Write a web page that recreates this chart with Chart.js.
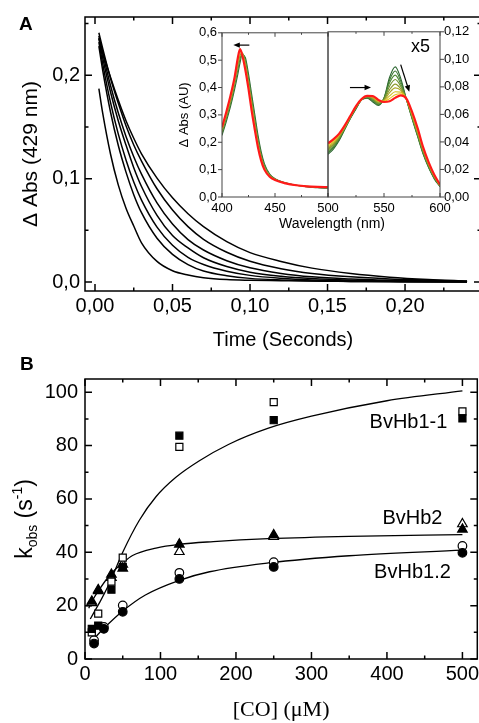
<!DOCTYPE html>
<html>
<head>
<meta charset="utf-8">
<script src="https://cdn.jsdelivr.net/npm/chart.js@4.4.0/dist/chart.umd.min.js"></script>
<style>
  html, body { margin: 0; padding: 0; width: 479px; height: 723px; overflow: hidden; background: #fff; }
  canvas { position: absolute; }
  .lbl { position: absolute; font-family: 'Liberation Sans', Arial, sans-serif; line-height: 1; color: #000; white-space: nowrap; }
</style>
</head>
<body>
<canvas id="decay" width="484" height="360" style="left:0;top:0"></canvas>
<canvas id="soret" width="180" height="215" style="left:170px;top:20px"></canvas>
<canvas id="qband" width="158" height="215" style="left:326px;top:20px"></canvas>
<canvas id="kobs" width="484" height="363" style="left:0;top:360px"></canvas>
<div class="lbl" style="left:19px;top:14px;font-size:19px;font-weight:bold">A</div>
<div class="lbl" style="left:20px;top:354px;font-size:19px;font-weight:bold">B</div>
<div class="lbl" style="left:411px;top:37px;font-size:18px">x5</div>
<div class="lbl" style="left:232px;top:216px;width:200px;text-align:center;font-size:14px">Wavelength (nm)</div>
<script>
  "use strict";

  // ---- panel A: absorbance decays at 429 nm ----
  const decayTime = [0.0025, 0.005, 0.01, 0.015, 0.02, 0.025, 0.03, 0.04, 0.05, 0.06, 0.07, 0.085, 0.1, 0.12, 0.14, 0.165, 0.19, 0.215, 0.24];
  const decay1 = [0.236, 0.222, 0.198, 0.176, 0.156, 0.139, 0.124, 0.1005, 0.0815, 0.0661, 0.0536, 0.0391, 0.0285, 0.020, 0.0135, 0.0083, 0.0048, 0.0025, 0.001];
  const decay2 = [0.241, 0.2255, 0.197, 0.173, 0.151, 0.1325, 0.117, 0.0902, 0.0696, 0.0536, 0.0414, 0.0289, 0.0202, 0.013, 0.0084, 0.0051, 0.0031, 0.0019, 0.0008];
  const decay3 = [0.238, 0.221, 0.19, 0.1636, 0.1408, 0.1212, 0.1043, 0.0765, 0.0561, 0.0411, 0.031, 0.0207, 0.0138, 0.0084, 0.0051, 0.003, 0.0018, 0.0011, 0.0005];
  const decay4 = [0.235, 0.2165, 0.1837, 0.156, 0.1324, 0.1106, 0.0924, 0.0645, 0.045, 0.033, 0.0235, 0.015, 0.0096, 0.0057, 0.0034, 0.0019, 0.0012, 0.0008, 0.0004];
  const decay5 = [0.232, 0.2107, 0.1737, 0.1432, 0.1181, 0.0967, 0.0792, 0.0531, 0.0356, 0.0239, 0.017, 0.0105, 0.0065, 0.0037, 0.0021, 0.0012, 0.0008, 0.0005, 0.0003];
  const decay6 = [0.228, 0.2044, 0.1644, 0.1322, 0.1063, 0.0845, 0.0671, 0.0424, 0.0268, 0.0169, 0.0107, 0.0062, 0.0036, 0.002, 0.0011, 0.0007, 0.0005, 0.0003, 0.0002];
  const decay7 = [0.187, 0.163, 0.1238, 0.094, 0.0714, 0.0542, 0.038, 0.02, 0.011, 0.0068, 0.0042, 0.0024, 0.0018, 0.0014, 0.001, 0.0007, 0.0004, 0.0002, 0.0001];
  const timeTicks = [0, 0.05, 0.1, 0.15, 0.2];
  const timeMinor = [0.025, 0.075, 0.125, 0.175, 0.225];
  const absTicks = [0, 0.1, 0.2];
  const absMinor = [0.05, 0.15, 0.25];

  // ---- inset: spectra (first listed = drawn on top) ----
  const soretNm = [400, 404, 408, 412, 415, 417, 419, 422, 425, 428, 431, 434, 437, 440, 445, 450, 460, 470, 480, 490, 500];
  const soretRed = [0.255, 0.31, 0.37, 0.44, 0.51, 0.54, 0.52, 0.465, 0.395, 0.315, 0.245, 0.18, 0.132, 0.1, 0.074, 0.062, 0.05, 0.043, 0.039, 0.037, 0.036];
  const soretYellow = [0.248, 0.302, 0.36, 0.43, 0.495, 0.53, 0.525, 0.478, 0.408, 0.33, 0.258, 0.19, 0.139, 0.104, 0.076, 0.063, 0.05, 0.043, 0.039, 0.036, 0.035];
  const soretOlive = [0.24, 0.293, 0.35, 0.42, 0.48, 0.518, 0.527, 0.49, 0.42, 0.345, 0.27, 0.2, 0.146, 0.109, 0.079, 0.065, 0.051, 0.043, 0.039, 0.036, 0.034];
  const soretGreen = [0.233, 0.285, 0.34, 0.408, 0.465, 0.505, 0.525, 0.5, 0.435, 0.36, 0.285, 0.212, 0.155, 0.115, 0.081, 0.066, 0.051, 0.043, 0.038, 0.035, 0.033];
  const soretDark = [0.225, 0.275, 0.33, 0.395, 0.45, 0.49, 0.52, 0.51, 0.45, 0.375, 0.3, 0.225, 0.165, 0.122, 0.084, 0.067, 0.052, 0.043, 0.038, 0.034, 0.032];
  const soretColors = ["#ff1a1a", "#d9c021", "#8d9a2c", "#4e8a36", "#2c6630"];
  const qNm = [500, 505, 510, 515, 520, 525, 530, 535, 540, 545, 550, 555, 560, 565, 570, 575, 580, 585, 590, 595, 600];
  const qRed = [0.039, 0.042, 0.046, 0.052, 0.059, 0.066, 0.0712, 0.0735, 0.0733, 0.0705, 0.069, 0.0695, 0.072, 0.0738, 0.0715, 0.062, 0.05, 0.036, 0.025, 0.016, 0.009];
  const qYellowA = [0.038, 0.041, 0.0455, 0.0515, 0.0588, 0.0658, 0.0711, 0.0734, 0.073, 0.07, 0.0694, 0.0715, 0.0743, 0.075, 0.0714, 0.0612, 0.049, 0.0355, 0.0245, 0.0156, 0.0088];
  const qYellow = [0.037, 0.04, 0.045, 0.051, 0.0585, 0.0656, 0.071, 0.0732, 0.0726, 0.0695, 0.0698, 0.0735, 0.0765, 0.0762, 0.0712, 0.0605, 0.048, 0.035, 0.024, 0.0152, 0.0087];
  const qOliveA = [0.036, 0.0393, 0.0443, 0.0508, 0.0583, 0.0654, 0.071, 0.073, 0.0722, 0.069, 0.0702, 0.0758, 0.0793, 0.0774, 0.0711, 0.0598, 0.0472, 0.0343, 0.0235, 0.0149, 0.0085];
  const qOlive = [0.035, 0.0385, 0.0435, 0.0505, 0.058, 0.0652, 0.0709, 0.0728, 0.0717, 0.0685, 0.0705, 0.078, 0.082, 0.0785, 0.071, 0.059, 0.0465, 0.0335, 0.023, 0.0145, 0.0083];
  const qGreenA = [0.034, 0.0378, 0.043, 0.0503, 0.0578, 0.065, 0.0708, 0.0726, 0.0711, 0.068, 0.071, 0.0805, 0.0853, 0.0803, 0.071, 0.0585, 0.0458, 0.0328, 0.0225, 0.0141, 0.0081];
  const qGreen = [0.033, 0.037, 0.0425, 0.05, 0.0575, 0.0647, 0.0707, 0.0724, 0.0705, 0.0675, 0.0715, 0.083, 0.0885, 0.082, 0.071, 0.058, 0.045, 0.032, 0.022, 0.0137, 0.0079];
  const qDarkA = [0.032, 0.036, 0.0418, 0.0495, 0.0573, 0.0644, 0.0706, 0.0721, 0.0698, 0.067, 0.0718, 0.085, 0.0915, 0.084, 0.071, 0.0575, 0.0445, 0.0315, 0.0215, 0.0134, 0.0077];
  const qDark = [0.031, 0.035, 0.041, 0.049, 0.057, 0.064, 0.0705, 0.0718, 0.069, 0.0665, 0.072, 0.087, 0.0945, 0.086, 0.071, 0.057, 0.044, 0.031, 0.021, 0.013, 0.0075];
  const qColors = ["#ff1a1a", "#e8c81e", "#d0bd22", "#aaa828", "#8d9a2c", "#6e9030", "#4e8a36", "#3c7833", "#2c6630"];
  const soretArrow = [[425.8, 0.555, 410.7, 0.555]];
  const qArrows = [[519.6, 0.0795, 538.4, 0.0795], [564.9, 0.0962, 572.6, 0.0764]];

  // ---- panel B: kobs vs [CO] ----
  const coSquare = [9, 17.5, 35, 50, 125, 250, 500];
  const hb11Filled = [11.3, 12.5, 26, 34.5, 83.7, 89.5, 90.2];
  const hb11Open = [10, 17, 29, 38, 79.5, 96.3, 92.8];
  const coTriangle = [9, 17.5, 35, 50, 125, 250, 500];
  const hb2Filled = [21.6, 25.9, 31.7, 34, 43, 46.5, 48.6];
  const hb2Open = [21, 25.5, 30.5, 35.5, 40.2, 45.9, 50.6];
  const coCircle = [12, 25, 50, 125, 250, 500];
  const hb12Filled = [5.8, 11.3, 17.7, 30, 34.5, 39.8];
  const hb12Open = [7, 12, 20.1, 32.3, 36.3, 42.4];
  const fit11CO = [7, 11, 20, 30, 37, 50, 72, 94, 120, 151, 190, 243, 300, 400, 500];
  const fit11K = [15, 17, 21.5, 27, 31.4, 40, 52, 60.8, 68, 74.2, 80.4, 86.5, 91, 96.8, 100.5];
  const fit2CO = [5, 10, 20, 33, 50, 63, 94, 125, 170, 243, 350, 500];
  const fit2K = [19, 22, 26.5, 31.5, 36, 38.8, 41.6, 43, 44, 45.1, 46, 46.6];
  const fit12CO = [10, 25, 50, 80, 125, 165, 243, 350, 500];
  const fit12K = [7, 11.5, 18, 24, 29.5, 32.7, 36, 38.7, 40.8];
  const curveNames = ["BvHb1-1", "BvHb2", "BvHb1.2"];
  const curveNameCO = [377, 394, 383];
  const curveNameK = [88.8, 52.8, 32.3];
  const coTicks = [0, 100, 200, 300, 400, 500];
  const coMinor = [50, 150, 250, 350, 450];
  const kTicks = [0, 20, 40, 60, 80, 100];
  const kMinor = [10, 30, 50, 70, 90];

  const FONT = "'Liberation Sans', Arial, sans-serif";
  Chart.defaults.font.family = FONT;
  Chart.defaults.color = "#000";

  const pts = (xs, ys) => xs.map((x, i) => ({ x, y: ys[i] }));
  const comma = (d) => (v) => v.toFixed(d).replace(".", ",");
  const plain = (v) => String(v);

  const axis = (o) => ({
    type: "linear",
    position: o.position,
    min: o.min,
    max: o.max,
    grid: { display: false, drawTicks: false },
    border: { display: false },
    afterBuildTicks: (s) => { s.ticks = o.ticks.map((value) => ({ value })); },
    afterFit: (s) => {
      if (o.width) s.width = o.width;
      if (o.height) s.height = o.height;
    },
    ticks: { autoSkip: false, maxRotation: 0, padding: o.pad, font: { size: o.size }, callback: o.fmt },
    title: o.title || { display: false }
  });

  // box around the plot area plus tick marks (1 = inward, -1 = outward, 0 = none)
  const frameTicks = (o) => ({
    id: "frameTicks",
    afterDatasetsDraw(chart) {
      const { ctx, chartArea: a } = chart;
      const xs = chart.scales.x;
      const ys = chart.scales.y;
      ctx.save();
      ctx.strokeStyle = o.color;
      ctx.lineWidth = o.width;
      ctx.strokeRect(a.left, a.top, a.right - a.left, a.bottom - a.top);
      ctx.beginPath();
      const xMarks = (vals, len) => vals.forEach((v) => {
        const px = xs.getPixelForValue(v);
        if (px < a.left - 0.5 || px > a.right + 0.5) return;
        if (o.bottom) { ctx.moveTo(px, a.bottom); ctx.lineTo(px, a.bottom - o.bottom * len); }
        if (o.top) { ctx.moveTo(px, a.top); ctx.lineTo(px, a.top + o.top * len); }
      });
      const yMarks = (vals, len) => vals.forEach((v) => {
        const py = ys.getPixelForValue(v);
        if (py < a.top - 0.5 || py > a.bottom + 0.5) return;
        if (o.left) { ctx.moveTo(a.left, py); ctx.lineTo(a.left + o.left * len, py); }
        if (o.right) { ctx.moveTo(a.right, py); ctx.lineTo(a.right - o.right * len, py); }
      });
      xMarks(o.xMajor, o.len);
      xMarks(o.xMinor, o.len / 2);
      yMarks(o.yMajor, o.len);
      yMarks(o.yMinor, o.len / 2);
      ctx.stroke();
      ctx.restore();
    }
  });

  const arrows = (list) => ({
    id: "arrows",
    afterDatasetsDraw(chart) {
      const { ctx } = chart;
      const xs = chart.scales.x;
      const ys = chart.scales.y;
      ctx.save();
      ctx.strokeStyle = "#000";
      ctx.fillStyle = "#000";
      ctx.lineWidth = 1.2;
      list.forEach(([x1, y1, x2, y2]) => {
        const ax = xs.getPixelForValue(x1), ay = ys.getPixelForValue(y1);
        const bx = xs.getPixelForValue(x2), by = ys.getPixelForValue(y2);
        const ang = Math.atan2(by - ay, bx - ax);
        ctx.beginPath();
        ctx.moveTo(ax, ay);
        ctx.lineTo(bx - 4 * Math.cos(ang), by - 4 * Math.sin(ang));
        ctx.stroke();
        ctx.beginPath();
        ctx.moveTo(bx, by);
        ctx.lineTo(bx - 7 * Math.cos(ang - 0.4), by - 7 * Math.sin(ang - 0.4));
        ctx.lineTo(bx - 7 * Math.cos(ang + 0.4), by - 7 * Math.sin(ang + 0.4));
        ctx.closePath();
        ctx.fill();
      });
      ctx.restore();
    }
  });

  const common = {
    responsive: false,
    animation: false,
    events: [],
    plugins: { legend: { display: false }, tooltip: { enabled: false } }
  };

  // panel A
  new Chart(document.getElementById("decay"), {
    type: "line",
    data: {
      datasets: [decay1, decay2, decay3, decay4, decay5, decay6, decay7].map((c) => ({
        data: pts(decayTime, c),
        borderColor: "#000",
        borderWidth: 1.5,
        pointRadius: 0,
        cubicInterpolationMode: "monotone"
      }))
    },
    options: {
      ...common,
      layout: { padding: { top: 13, right: 3, left: 0, bottom: 0 } },
      scales: {
        x: axis({ position: "bottom", min: -0.00645, max: 0.249, ticks: timeTicks, fmt: comma(2), size: 20, pad: 3, height: 69,
          title: { display: true, text: "Time (Seconds)", font: { size: 20 }, padding: { top: 0, bottom: 8 } } }),
        y: axis({ position: "left", min: -0.0086, max: 0.2562, ticks: absTicks, fmt: comma(1), size: 20, pad: 5, width: 85,
          title: { display: true, text: "\u0394 Abs (429 nm)", font: { size: 21 }, padding: { top: 19, bottom: 0 } } })
      }
    },
    plugins: [frameTicks({ color: "#000", width: 1.5, len: 7, bottom: 1, top: 1, left: 1, right: 1,
      xMajor: timeTicks, xMinor: timeMinor, yMajor: absTicks, yMinor: absMinor })]
  });

  const spectrumSets = (nm, series, colors) => series.map((s, i) => ({
    data: pts(nm, s),
    borderColor: colors[i],
    borderWidth: i === 0 ? 2.2 : 1.1,
    pointRadius: 0,
    cubicInterpolationMode: "monotone"
  }));

  // inset, Soret region
  new Chart(document.getElementById("soret"), {
    type: "line",
    data: { datasets: spectrumSets(soretNm, [soretRed, soretYellow, soretOlive, soretGreen, soretDark], soretColors) },
    options: {
      ...common,
      layout: { padding: { top: 9, right: 22, left: 0, bottom: 0 } },
      scales: {
        x: axis({ position: "bottom", min: 400, max: 500, ticks: [400, 450, 500], fmt: plain, size: 13, pad: 4, height: 38 }),
        y: axis({ position: "left", min: 0, max: 0.6, ticks: [0, 0.1, 0.2, 0.3, 0.4, 0.5, 0.6], fmt: comma(1), size: 13, pad: 5, width: 52,
          title: { display: true, text: "\u0394 Abs (AU)", font: { size: 13 }, padding: { top: 7, bottom: 0 } } })
      }
    },
    plugins: [frameTicks({ color: "#444", width: 1, len: 4, bottom: 1, top: 1, left: -1, right: 0,
      xMajor: [400, 450, 500], xMinor: [425, 475], yMajor: [0, 0.1, 0.2, 0.3, 0.4, 0.5, 0.6], yMinor: [] }),
      arrows(soretArrow)]
  });

  // inset, Q bands (x5)
  new Chart(document.getElementById("qband"), {
    type: "line",
    data: { datasets: spectrumSets(qNm, [qRed, qYellowA, qYellow, qOliveA, qOlive, qGreenA, qGreen, qDarkA, qDark], qColors) },
    options: {
      ...common,
      layout: { padding: { top: 9, right: 0, left: 2, bottom: 0 } },
      scales: {
        x: axis({ position: "bottom", min: 500, max: 600, ticks: [550, 600], fmt: plain, size: 13, pad: 4, height: 38 }),
        y: axis({ position: "right", min: 0, max: 0.12, ticks: [0, 0.02, 0.04, 0.06, 0.08, 0.1, 0.12], fmt: comma(2), size: 13, pad: 4, width: 44 })
      }
    },
    plugins: [frameTicks({ color: "#444", width: 1, len: 4, bottom: 1, top: 1, left: 0, right: -1,
      xMajor: [500, 550, 600], xMinor: [525, 575], yMajor: [0, 0.02, 0.04, 0.06, 0.08, 0.1, 0.12], yMinor: [] }),
      arrows(qArrows)]
  });

  // panel B
  const marker = (xs, ys, style, fill, r) => ({
    data: pts(xs, ys),
    showLine: false,
    pointStyle: style,
    pointRadius: r,
    pointBackgroundColor: fill,
    pointBorderColor: "#000",
    pointBorderWidth: 1.2
  });
  const fit = (xs, ys) => ({
    data: pts(xs, ys),
    borderColor: "#000",
    borderWidth: 1.3,
    pointRadius: 0,
    cubicInterpolationMode: "monotone"
  });

  const kobsText = {
    id: "kobsText",
    afterDatasetsDraw(chart) {
      const { ctx, chartArea: a } = chart;
      const xs = chart.scales.x;
      const ys = chart.scales.y;
      ctx.save();
      ctx.fillStyle = "#000";
      ctx.font = `20px ${FONT}`;
      ctx.textBaseline = "middle";
      ctx.textAlign = "left";
      curveNames.forEach((t, i) => ctx.fillText(t, xs.getPixelForValue(curveNameCO[i]), ys.getPixelForValue(curveNameK[i])));
      // axis title k_obs (s^-1)
      const parts = [["k", 23, 0], ["obs", 14, 5], [" (s", 23, 0], ["-1", 14, -10], [")", 23, 0]];
      const widths = parts.map(([t, s]) => { ctx.font = `${s}px ${FONT}`; return ctx.measureText(t).width; });
      const total = widths.reduce((p, w) => p + w, 0);
      ctx.translate(32, (a.top + a.bottom) / 2);
      ctx.rotate(-Math.PI / 2);
      ctx.textBaseline = "alphabetic";
      let pos = -total / 2;
      parts.forEach(([t, s, dy], i) => {
        ctx.font = `${s}px ${FONT}`;
        ctx.fillText(t, pos, dy);
        pos += widths[i];
      });
      ctx.restore();
    }
  };

  new Chart(document.getElementById("kobs"), {
    type: "line",
    data: {
      datasets: [
        marker(coSquare, hb11Filled, "rect", "#000", 5),
        marker(coTriangle, hb2Filled, "triangle", "#000", 5.5),
        marker(coCircle, hb12Filled, "circle", "#000", 4.3),
        marker(coSquare, hb11Open, "rect", "#fff", 5),
        marker(coTriangle, hb2Open, "triangle", "#fff", 5.5),
        marker(coCircle, hb12Open, "circle", "#fff", 4.3),
        fit(fit11CO, fit11K),
        fit(fit2CO, fit2K),
        fit(fit12CO, fit12K)
      ]
    },
    options: {
      ...common,
      layout: { padding: { top: 13, right: 3, left: 0, bottom: 0 } },
      scales: {
        x: axis({ position: "bottom", min: 0, max: 519.7, ticks: coTicks, fmt: plain, size: 20, pad: 3, height: 64,
          title: { display: true, text: "[CO] (\u03bcM)", font: { size: 22, family: "'Liberation Serif', 'Times New Roman', serif" }, padding: { top: 0, bottom: 0 } } }),
        y: axis({ position: "left", min: 0, max: 104.95, ticks: kTicks, fmt: plain, size: 20, pad: 7, width: 85 })
      }
    },
    plugins: [frameTicks({ color: "#000", width: 1.5, len: 7, bottom: 1, top: 1, left: 1, right: 1,
      xMajor: coTicks, xMinor: coMinor, yMajor: kTicks, yMinor: kMinor }), kobsText]
  });
</script>
</body>
</html>
